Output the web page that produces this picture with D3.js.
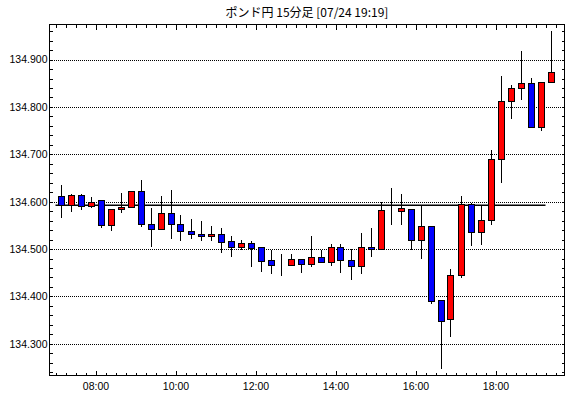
<!DOCTYPE html>
<html>
  <head>
  <meta charset="utf-8">
  <title>ポンド円 15分足</title>
  <style>
    body, html {
      margin: 0;
      padding: 0;
      background: #fff;
    }
    text {
      font-family: "Liberation Sans", Arial, sans-serif;
    }
  </style>
  </head>
  <body>

  <svg id="svg" width="570" height="398"></svg>

  <script src="https://d3js.org/d3.v7.min.js"></script>
  <script>
    // 15-minute candles, start time of each bar
    const times = ['07:00', '07:15', '07:30', '07:45', '08:00', '08:15', '08:30', '08:45',
      '09:00', '09:15', '09:30', '09:45', '10:00', '10:15', '10:30', '10:45',
      '11:00', '11:15', '11:30', '11:45', '12:00', '12:15', '12:30', '12:45',
      '13:00', '13:15', '13:30', '13:45', '14:00', '14:15', '14:30', '14:45',
      '15:00', '15:15', '15:30', '15:45', '16:00', '16:15', '16:30', '16:45',
      '17:00', '17:15', '17:30', '17:45', '18:00', '18:15', '18:30', '18:45',
      '19:00', '19:15']
    const open = [134.611, 134.592, 134.613, 134.590, 134.602, 134.549, 134.583, 134.587,
      134.621, 134.551, 134.542, 134.574, 134.551, 134.538, 134.531, 134.527,
      134.531, 134.515, 134.504, 134.511, 134.503, 134.475, 134.466, 134.466,
      134.477, 134.468, 134.483, 134.472, 134.504, 134.475, 134.464, 134.504,
      134.498, 134.581, 134.580, 134.584, 134.518, 134.547, 134.392, 134.352,
      134.445, 134.593, 134.534, 134.561, 134.688, 134.811, 134.838, 134.849,
      134.757, 134.851]
    const high = [134.635, 134.616, 134.617, 134.609, 134.602, 134.583, 134.619, 134.621,
      134.646, 134.586, 134.611, 134.624, 134.571, 134.563, 134.559, 134.549,
      134.544, 134.528, 134.520, 134.518, 134.504, 134.499, 134.490, 134.490,
      134.477, 134.527, 134.499, 134.511, 134.511, 134.501, 134.533, 134.545,
      134.600, 134.628, 134.617, 134.584, 134.590, 134.547, 134.392, 134.458,
      134.613, 134.597, 134.593, 134.709, 134.865, 134.846, 134.918, 134.862,
      134.851, 134.960]
    const low = [134.565, 134.578, 134.582, 134.587, 134.544, 134.539, 134.576, 134.587,
      134.546, 134.504, 134.542, 134.522, 134.516, 134.522, 134.516, 134.516,
      134.491, 134.484, 134.499, 134.463, 134.452, 134.448, 134.444, 134.466,
      134.450, 134.463, 134.470, 134.465, 134.450, 134.435, 134.448, 134.484,
      134.498, 134.550, 134.551, 134.499, 134.480, 134.383, 134.246, 134.315,
      134.438, 134.506, 134.508, 134.550, 134.639, 134.775, 134.814, 134.755,
      134.749, 134.851]
    const close = [134.592, 134.613, 134.589, 134.599, 134.549, 134.583, 134.587, 134.621,
      134.551, 134.542, 134.574, 134.551, 134.538, 134.531, 134.527, 134.531,
      134.514, 134.504, 134.511, 134.502, 134.474, 134.466, 134.466, 134.477,
      134.468, 134.483, 134.472, 134.504, 134.475, 134.464, 134.504, 134.498,
      134.581, 134.581, 134.585, 134.518, 134.547, 134.390, 134.348, 134.445,
      134.595, 134.534, 134.561, 134.688, 134.811, 134.839, 134.849, 134.757,
      134.851, 134.872]

    const priceTicks = [134.3, 134.4, 134.5, 134.6, 134.7, 134.8, 134.9]
    const timeLabels = ['08:00', '10:00', '12:00', '14:00', '16:00', '18:00']
    const refLine = { from: '07:00', to: '19:15', value: 134.5926 }
    const title = 'ポンド円 15分足 [07/24 19:19]'

    const parse = d3.timeParse('%H:%M')
    const data = times.map((t, i) => ({
      t: parse(t), o: open[i], h: high[i], l: low[i], c: close[i]
    }))

    const pLeft = 49.5, pRight = 564.5, pTop = 24.5, pBottom = 375.5
    const width = pRight - pLeft, height = pBottom - pTop

    const xscale = d3.scaleTime()
      .domain([parse('06:51'), d3.timeSecond.offset(parse('19:43'), 30)])
      .range([pLeft, pRight])

    const yscale = d3.scaleLinear()
      .domain([134.233, 134.974])
      .range([pBottom, pTop])

    const svg = d3.select('#svg')

    svg.append('text')
      .attr('x', 307)
      .attr('y', 17)
      .attr('text-anchor', 'middle')
      .style('font-family', '"Noto Sans CJK JP", sans-serif')
      .style('font-size', '12px')
      .text(title)

    // dotted grid
    const grid = d3.axisLeft(yscale)
      .tickValues(priceTicks)
      .tickSize(-width)
      .tickFormat('')
    svg.append('g')
      .attr('transform', `translate(${pLeft}, 0)`)
      .call(grid)
      .call(g => g.select('.domain').remove())
      .call(g => g.selectAll('line')
        .attr('stroke', '#000')
        .attr('stroke-dasharray', '1,1')
        .attr('shape-rendering', 'crispEdges'))

    // minor ticks every 0.02
    const minorY = d3.range(134.24, 134.97, 0.02)
    const yLeftMinor = d3.axisLeft(yscale).tickValues(minorY).tickSize(-3).tickFormat('')
    const yRightMinor = d3.axisRight(yscale).tickValues(minorY).tickSize(-3).tickFormat('')
    svg.append('g').attr('class', 'tk').attr('transform', `translate(${pLeft}, 0)`).call(yLeftMinor)
    svg.append('g').attr('class', 'tk').attr('transform', `translate(${pRight}, 0)`).call(yRightMinor)

    // price labels
    const yLabels = d3.axisLeft(yscale)
      .tickValues(priceTicks)
      .tickSize(0)
      .tickPadding(2)
      .tickFormat(d3.format('.3f'))
    svg.append('g')
      .attr('transform', `translate(${pLeft}, 0)`)
      .call(yLabels)
      .call(g => g.select('.domain').remove())
      .call(g => g.selectAll('text').style('font-size', '10.5px').attr('fill', '#000'))

    // time ticks top & bottom
    const minorX = d3.timeMinute.every(15).range(parse('07:00'), parse('19:44'))
    const majorX = timeLabels.map(parse)
    const isMajor = d => majorX.some(m => +m === +d)
    const xBottom = d3.axisBottom(xscale).tickValues(minorX).tickSize(-3).tickFormat('')
    const xTop = d3.axisTop(xscale).tickValues(minorX).tickSize(-3).tickFormat('')
    svg.append('g').attr('class', 'tk xt').attr('transform', `translate(0, ${pBottom})`).call(xBottom)
      .call(g => g.selectAll('.tick line').filter(isMajor).attr('y2', -5))
    svg.append('g').attr('class', 'tk xt').attr('transform', `translate(0, ${pTop})`).call(xTop)
      .call(g => g.selectAll('.tick line').filter(isMajor).attr('y2', 5))

    const xLabels = d3.axisBottom(xscale)
      .tickValues(majorX)
      .tickSize(0)
      .tickPadding(7)
      .tickFormat(d3.timeFormat('%H:%M'))
    svg.append('g')
      .attr('transform', `translate(0, ${pBottom})`)
      .call(xLabels)
      .call(g => g.select('.domain').remove())
      .call(g => g.selectAll('text').style('font-size', '10.5px').attr('fill', '#000'))

    svg.selectAll('.tk .domain').remove()
    svg.selectAll('.tk line').attr('stroke', '#000').attr('shape-rendering', 'crispEdges')

    // frame
    svg.append('rect')
      .attr('x', pLeft)
      .attr('y', pTop)
      .attr('width', width)
      .attr('height', height)
      .attr('fill', 'none')
      .attr('stroke', '#000')
      .attr('shape-rendering', 'crispEdges')

    // reference line
    svg.append('line')
      .attr('x1', xscale(parse(refLine.from)))
      .attr('x2', xscale(parse(refLine.to)))
      .attr('y1', yscale(refLine.value))
      .attr('y2', yscale(refLine.value))
      .attr('stroke', '#000')
      .attr('stroke-width', 1.5)

    // candles
    const mid = d => xscale(d3.timeSecond.offset(d.t, 450))
    const candles = svg.append('g')
      .selectAll('g')
      .data(data)
      .enter()
      .append('g')

    candles.append('line')
      .attr('x1', d => Math.round(mid(d)) + 0.5)
      .attr('x2', d => Math.round(mid(d)) + 0.5)
      .attr('y1', d => yscale(d.h))
      .attr('y2', d => yscale(d.l))
      .attr('stroke', '#000')
      .attr('shape-rendering', 'crispEdges')

    candles.append('rect')
      .attr('x', d => Math.round(mid(d)) - 2.5)
      .attr('y', d => yscale(Math.max(d.o, d.c)))
      .attr('width', 6)
      .attr('height', d => Math.abs(yscale(d.o) - yscale(d.c)))
      .attr('fill', d => d.c > d.o ? '#ff0000' : '#0000ff')
      .attr('stroke', '#000')
      .attr('shape-rendering', 'crispEdges')
  </script>
  </body>
</html>
